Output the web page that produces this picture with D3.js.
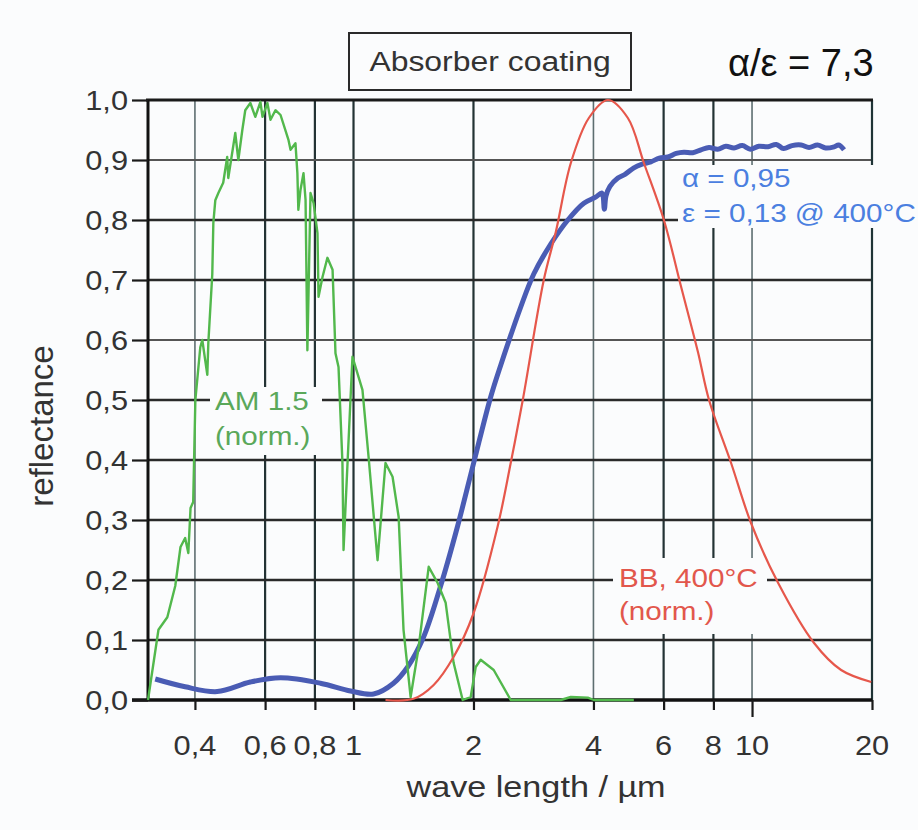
<!DOCTYPE html>
<html>
<head>
<meta charset="utf-8">
<script src="https://cdn.jsdelivr.net/npm/d3@7/dist/d3.min.js"></script>
<style>
  body { margin: 0; background: #fbfcfd; }
  text { font-family: "Liberation Sans", Arial, sans-serif; }
</style>
</head>
<body>
<div id="chart"></div>
<script>
// ---- data ----
const xTicks = [0.4, 0.6, 0.8, 1, 2, 4, 6, 8, 10, 20];
const xTickLabels = ["0,4", "0,6", "0,8", "1", "2", "4", "6", "8", "10", "20"];
const yTicks = [0, 0.1, 0.2, 0.3, 0.4, 0.5, 0.6, 0.7, 0.8, 0.9, 1.0];
const yTickLabels = ["0,0", "0,1", "0,2", "0,3", "0,4", "0,5", "0,6", "0,7", "0,8", "0,9", "1,0"];

// reflectance of the absorber coating (wave length in µm)
const blueWl = [0.318, 0.378, 0.455, 0.551, 0.656, 0.826, 0.983, 1.123, 1.26, 1.367,
  1.499, 1.654, 1.825, 2.002, 2.209, 2.341, 2.628, 2.833, 3.126, 3.45,
  3.784, 4.05, 4.2, 4.26, 4.3, 4.4, 4.607, 4.8, 5.052, 5.3, 5.575, 5.85, 6.151,
  6.45, 6.748, 7.1, 7.445, 7.8, 8.2, 8.6, 9.01, 9.45, 9.9, 10.4, 10.97, 11.5,
  12.0, 12.6, 13.28, 13.9, 14.6, 15.3, 16.07, 16.5, 17.02];
const blueR = [0.035, 0.022, 0.014, 0.03, 0.037, 0.028, 0.015, 0.01, 0.028, 0.055,
  0.105, 0.19, 0.29, 0.395, 0.505, 0.558, 0.655, 0.71, 0.76, 0.80,
  0.828, 0.838, 0.845, 0.818, 0.84, 0.856, 0.87, 0.876, 0.887, 0.893, 0.897, 0.903, 0.905,
  0.911, 0.913, 0.912, 0.917, 0.921, 0.918, 0.923, 0.92, 0.924, 0.918, 0.923, 0.922, 0.926,
  0.919, 0.924, 0.925, 0.921, 0.925, 0.92, 0.922, 0.925, 0.917];

// AM 1.5 solar spectrum, normalised
const amWl = [0.305, 0.324, 0.341, 0.357, 0.368, 0.378, 0.385, 0.39, 0.396, 0.401,
  0.4126, 0.4174, 0.4297, 0.4322, 0.4422, 0.4449, 0.45, 0.458, 0.471, 0.482,
  0.485, 0.505, 0.514, 0.526, 0.535, 0.551, 0.567, 0.584, 0.591, 0.608,
  0.619, 0.637, 0.656, 0.687, 0.695, 0.715, 0.723, 0.727, 0.736, 0.749,
  0.758, 0.766, 0.78, 0.794, 0.812, 0.817, 0.836, 0.86, 0.886, 0.901,
  0.917, 0.938, 0.944, 0.966, 0.994, 1.053, 1.091, 1.149, 1.203, 1.253,
  1.298, 1.335, 1.391, 1.457, 1.544, 1.626, 1.703, 1.783, 1.879, 1.968,
  2.026, 2.085, 2.248, 2.48, 3.312, 3.51, 3.871, 4.009, 5.051];
const amVal = [0, 0.117, 0.138, 0.19, 0.255, 0.27, 0.245, 0.32, 0.33, 0.5,
  0.588, 0.6, 0.542, 0.595, 0.71, 0.795, 0.833, 0.845, 0.862, 0.905,
  0.87, 0.945, 0.9, 0.95, 0.983, 0.995, 0.972, 0.997, 0.972, 0.995,
  0.967, 0.983, 0.975, 0.933, 0.917, 0.928, 0.878, 0.817, 0.85, 0.878,
  0.833, 0.583, 0.845, 0.828, 0.778, 0.672, 0.705, 0.737, 0.717, 0.578,
  0.555, 0.395, 0.25, 0.395, 0.572, 0.517, 0.405, 0.233, 0.395, 0.372,
  0.305, 0.117, 0.005, 0.088, 0.222, 0.195, 0.162, 0.062, 0, 0.005,
  0.055, 0.067, 0.05, 0, 0, 0.005, 0.004, 0, 0];

// black body at 400 °C, normalised
const bbWl = [1.203, 1.415, 1.589, 1.784, 2.002, 2.301, 2.48, 2.659, 3.002, 3.218,
  3.51, 3.895, 4.347, 4.88, 5.354, 6.009, 6.63, 7.316, 7.8, 8.86,
  9.94, 11.63, 14.31, 16.73, 19.91];
const bbVal = [0, 0.002, 0.025, 0.072, 0.145, 0.29, 0.395, 0.5, 0.7, 0.78,
  0.895, 0.97, 1.0, 0.97, 0.895, 0.8, 0.69, 0.58, 0.5, 0.395,
  0.295, 0.195, 0.095, 0.05, 0.03];

// ---- drawing ----
const W = 918, H = 830;
const svg = d3.select("#chart").append("svg")
  .attr("width", W).attr("height", H);

const x = d3.scaleLog().domain([0.305, 20]).range([148, 872]);
const y = d3.scaleLinear().domain([0, 1]).range([700, 100]);

const SX = 1.14; // the scan is a bit wider than tall

function txt(g, str, px, py, size, color, anchor, sx) {
  return g.append("text")
    .attr("transform", "translate(" + px + "," + py + ") scale(" + (sx || SX) + ",1)")
    .attr("text-anchor", anchor || "start")
    .attr("font-size", size)
    .attr("fill", color)
    .text(str);
}

// grid
const lightX = [0.4, 4, 10];
const lightY = [0.6, 0.9];
svg.append("g").selectAll("line")
  .data(xTicks.slice(0, -1))
  .enter().append("line")
  .attr("x1", d => x(d)).attr("x2", d => x(d))
  .attr("y1", y(1)).attr("y2", y(0))
  .attr("stroke", d => lightX.includes(d) ? "#5d6e70" : "#233234")
  .attr("stroke-width", d => lightX.includes(d) ? 1.6 : 2.2);

svg.append("g").selectAll("line")
  .data(yTicks.slice(1, -1))
  .enter().append("line")
  .attr("x1", x.range()[0]).attr("x2", x.range()[1])
  .attr("y1", d => y(d)).attr("y2", d => y(d))
  .attr("stroke", d => lightY.includes(d) ? "#555" : "#2a2a2a")
  .attr("stroke-width", d => lightY.includes(d) ? 1.8 : 2.5);

// frame
svg.append("line").attr("x1", x(20)).attr("x2", x(20)).attr("y1", y(1)).attr("y2", y(0))
  .attr("stroke", "#1f3436").attr("stroke-width", 2.2);
svg.append("line").attr("x1", 146).attr("x2", x(20) + 1).attr("y1", y(1)).attr("y2", y(1))
  .attr("stroke", "#1a1a1a").attr("stroke-width", 3);

// label backgrounds break the grid
const bg = "#fbfcfd";
svg.append("rect").attr("x", 210).attr("y", 387).attr("width", 112).attr("height", 68).attr("fill", bg);
svg.append("rect").attr("x", 678).attr("y", 165).attr("width", 240).attr("height", 63).attr("fill", bg);
svg.append("rect").attr("x", 613).attr("y", 558).attr("width", 154).attr("height", 76).attr("fill", bg);

// axes
const xAxis = d3.axisBottom(x).tickValues(xTicks).tickFormat("").tickSize(10);
const gx = svg.append("g").attr("transform", "translate(0," + y(0) + ")").call(xAxis);
gx.select(".domain").attr("stroke", "#111").attr("stroke-width", 3.5)
  .attr("d", "M" + (x.range()[0] - 16) + ",0H" + x.range()[1]);
gx.selectAll(".tick line").attr("stroke", "#1a1a1a").attr("stroke-width", 2.2)
  .attr("y2", d => d === 10 ? 17 : 10);

const yAxis = d3.axisLeft(y).tickValues(yTicks).tickFormat("").tickSize(16);
const gy = svg.append("g").attr("transform", "translate(" + x.range()[0] + ",0)").call(yAxis);
gy.select(".domain").attr("stroke", "#111").attr("stroke-width", 3)
  .attr("d", "M0," + y(1) + "V" + y(0));
gy.selectAll(".tick line").attr("stroke", "#1a1a1a").attr("stroke-width", 2.2);

// tick labels
const lab = svg.append("g");
xTicks.forEach((t, i) => txt(lab, xTickLabels[i], x(t), 755, 27, "#333", "middle"));
yTicks.forEach((t, i) => txt(lab, yTickLabels[i], 128, y(t) + 10, 27, "#333", "end"));

// axis titles
txt(lab, "wave length / µm", 536, 797, 30, "#333", "middle");
lab.append("text")
  .attr("transform", "translate(53,426) rotate(-90)")
  .attr("text-anchor", "middle").attr("font-size", 33).attr("fill", "#333")
  .text("reflectance");

// curves
const line = d3.line().x(d => x(d[0])).y(d => y(d[1]));
const smooth = d3.line().x(d => x(d[0])).y(d => y(d[1])).curve(d3.curveCatmullRom.alpha(0.5));

svg.append("path").datum(d3.zip(blueWl, blueR))
  .attr("d", smooth).attr("fill", "none")
  .attr("stroke", "#4a5cb4").attr("stroke-width", 5).attr("stroke-linejoin", "round");

svg.append("path").datum(d3.zip(amWl, amVal))
  .attr("d", line).attr("fill", "none")
  .attr("stroke", "#52b84c").attr("stroke-width", 2.4).attr("stroke-linejoin", "round");

svg.append("path").datum(d3.zip(bbWl, bbVal))
  .attr("d", smooth).attr("fill", "none")
  .attr("stroke", "#e6574b").attr("stroke-width", 2.2);

// in-plot labels
txt(svg, "AM 1.5", 215, 410, 26, "#5aa85a");
txt(svg, "(norm.)", 215, 445, 26, "#5aa85a");
txt(svg, "α = 0,95", 682, 187, 26, "#4b7fe0");
txt(svg, "ε = 0,13 @ 400°C", 682, 222, 26, "#4b7fe0");
txt(svg, "BB, 400°C", 619, 587, 26, "#e2574c");
txt(svg, "(norm.)", 619, 620, 26, "#e2574c");

// title box and ratio
svg.append("rect").attr("x", 349).attr("y", 33).attr("width", 282).attr("height", 57)
  .attr("fill", "none").attr("stroke", "#2a2a2a").attr("stroke-width", 2);
txt(svg, "Absorber coating", 490, 71, 28, "#333", "middle");
txt(svg, "α/ε = 7,3", 728, 76, 38, "#111", "start", 1);
</script>
</body>
</html>
